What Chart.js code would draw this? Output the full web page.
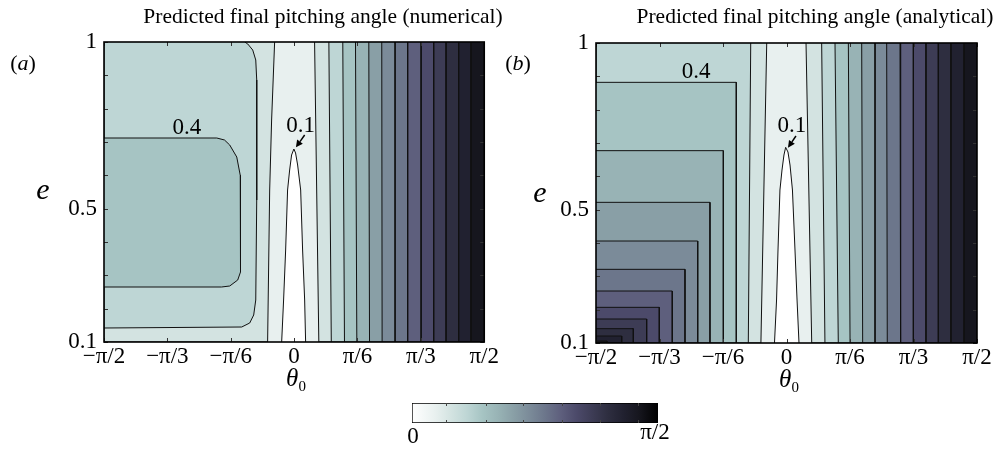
<!DOCTYPE html>
<html>
<head>
<meta charset="utf-8">
<script src="https://cdn.jsdelivr.net/npm/chart.js@4.4.0/dist/chart.umd.min.js"></script>
<style>
  body { margin: 0; background: #fff; width: 998px; height: 449px; position: relative; overflow: hidden; font-family: "Liberation Serif", serif; color: #000; }
  canvas { position: absolute; }
  .lbl { position: absolute; transform: translate(-50%, -50%); white-space: nowrap; line-height: 1; }
  .ttl { font-size: 21.5px; }
  .pan { font-size: 22px; }
  .ax { font-size: 30px; font-style: italic; }
  .th { font-size: 25px; }
  .th sub { font-size: 15px; vertical-align: -5px; line-height: 0; }
</style>
</head>
<body>
<canvas id="chartA" width="500" height="400" style="left:0;top:0"></canvas>
<canvas id="chartB" width="498" height="400" style="left:500px;top:0"></canvas>
<canvas id="colorbar" width="300" height="59" style="left:390px;top:390px"></canvas>

<div class="lbl ttl" style="left:323px;top:17px">Predicted final pitching angle (numerical)</div>
<div class="lbl ttl" style="left:815px;top:17px">Predicted final pitching angle (analytical)</div>
<div class="lbl pan" style="left:23px;top:63px">(<i>a</i>)</div>
<div class="lbl pan" style="left:518px;top:63px">(<i>b</i>)</div>
<div class="lbl ax" style="left:43px;top:189px">e</div>
<div class="lbl ax" style="left:540px;top:192px">e</div>
<div class="lbl th" style="left:296px;top:377px"><i>θ</i><sub>0</sub></div>
<div class="lbl th" style="left:789px;top:378px"><i>θ</i><sub>0</sub></div>

<script>
const PI = Math.PI;

// Niveles de contorno y color de cada banda (0-0.1, 0.1-0.2, ...)
const levels = [0, 0.1, 0.2, 0.3, 0.4, 0.5, 0.6, 0.7, 0.8, 0.9, 1.0, 1.1, 1.2, 1.3, 1.4, 1.5];
const bandColors = ['#ffffff', '#e8f0ef', '#d3e3e1', '#bed6d5', '#a6c4c3', '#98b3b5', '#899fa6', '#7b8b99',
  '#6c768b', '#5e5f7d', '#4c4a6a', '#3d3c55', '#2e2e40', '#212130', '#16161e', '#0c0c10'];

// Ejes
const thetaTicks = [-PI / 2, -PI / 3, -PI / 6, 0, PI / 6, PI / 3, PI / 2];
const thetaLabels = ['−π/2', '−π/3', '−π/6', '0', 'π/6', 'π/3', 'π/2'];
const eTicks = [0.1, 0.2, 0.3, 0.4, 0.5, 0.6, 0.7, 0.8, 0.9, 1.0];
const eLabels = ['0.1', '', '', '', '0.5', '', '', '', '', '1'];

// (a) contornos verticales a la derecha, niveles 0.2 ... 1.4 (theta en e=1 y en e=0.1)
const rightLevels = [0.2, 0.3, 0.4, 0.5, 0.6, 0.7, 0.8, 0.9, 1.0, 1.1, 1.2, 1.3, 1.4];
const rightTopA = [0.169, 0.287, 0.402, 0.507, 0.617, 0.724, 0.834, 0.938, 1.049, 1.153, 1.255, 1.359, 1.461];
const rightBotA = [0.204, 0.307, 0.416, 0.518, 0.623, 0.727, 0.834, 0.938, 1.049, 1.153, 1.255, 1.359, 1.461];

// (a) contorno 0.2 a la izquierda
const a02Theta = [-0.161, -0.186, -0.202, -0.219];
const a02E = [1.0, 0.766, 0.556, 0.1];
// (a) contorno 0.3 (caja exterior)
const a03Theta = [-0.408, -0.383, -0.342, -0.317, -0.309, -0.309, -0.317, -0.334, -0.367, -0.433, -PI / 2];
const a03E = [1.0, 0.994, 0.976, 0.946, 0.886, 0.526, 0.226, 0.181, 0.157, 0.145, 0.142];
// (a) contorno 0.4 (caja interior)
const a04Theta = [-PI / 2, -0.639, -0.575, -0.532, -0.474, -0.445, -0.441, -0.445, -0.466, -0.532, -0.6, -PI / 2];
const a04E = [0.712, 0.712, 0.706, 0.691, 0.655, 0.6, 0.5, 0.31, 0.286, 0.268, 0.265, 0.265];
// (a) contorno 0.1 (pico blanco)
const a01Theta = [-0.103, -0.087, -0.070, -0.054, -0.037, -0.021, -0.002, 0.012, 0.029, 0.054, 0.070, 0.087, 0.095];
const a01E = [0.1, 0.226, 0.376, 0.556, 0.616, 0.661, 0.679, 0.667, 0.631, 0.556, 0.376, 0.226, 0.1];

// (b) contornos verticales a la derecha
const rightTopB = [0.161, 0.290, 0.400, 0.510, 0.620, 0.730, 0.826, 0.936, 1.046, 1.150, 1.252, 1.356, 1.464];
const rightBotB = [0.208, 0.317, 0.427, 0.524, 0.628, 0.730, 0.831, 0.941, 1.046, 1.150, 1.252, 1.356, 1.464];
// (b) contornos 0.2 y 0.3 a la izquierda
const leftLevelsB = [0.2, 0.3];
const leftTopB = [-0.163, -0.295];
const leftBotB = [-0.211, -0.315];
// (b) rectángulos anidados, niveles 0.4 ... 1.4
const rectLevelsB = [0.4, 0.5, 0.6, 0.7, 0.8, 0.9, 1.0, 1.1, 1.2, 1.3, 1.4];
const rectRightB = [-0.414, -0.521, -0.631, -0.732, -0.837, -0.942, -1.049, -1.153, -1.263, -1.359, -1.48];
const rectTopB = [0.882, 0.677, 0.522, 0.406, 0.321, 0.256, 0.207, 0.172, 0.143, 0.121, 0.106];
// (b) contorno 0.1 (pico blanco)
const b01Theta = [-0.099, -0.082, -0.070, -0.054, -0.037, -0.021, -0.007, 0.012, 0.029, 0.049, 0.070, 0.087, 0.103];
const b01E = [0.1, 0.229, 0.379, 0.559, 0.619, 0.664, 0.687, 0.673, 0.634, 0.559, 0.379, 0.229, 0.1];

// Ticks de la barra de color
const cbTicks = [0.22, 0.47, 0.71, 0.96, 1.2, 1.44];

function bandColor(level) {
  return bandColors[Math.round(level * 10)];
}

function region(theta, e, level, stroke = true) {
  return {
    data: theta.map((t, i) => ({ x: t, y: e[i] })),
    showLine: true,
    fill: 'shape',
    backgroundColor: bandColor(level),
    borderColor: '#111',
    borderWidth: stroke ? 1 : 0,
    pointRadius: 0,
    tension: 0
  };
}

// Bandas verticales a la derecha: desde el contorno hasta theta = pi/2
function rightBands(tops, bots) {
  return rightLevels.map((lv, i) =>
    region([tops[i], bots[i], PI / 2, PI / 2], [1, 0.1, 0.1, 1], lv));
}

// Fondo del área (banda 0.1-0.2)
const areaBackground = {
  id: 'areaBackground',
  beforeDatasetsDraw(chart) {
    const { ctx, chartArea: a } = chart;
    ctx.save();
    ctx.fillStyle = bandColors[1];
    ctx.fillRect(a.left, a.top, a.width, a.height);
    ctx.restore();
  }
};

// Marco y ticks hacia adentro en los cuatro lados
const frameTicks = {
  id: 'frameTicks',
  afterDatasetsDraw(chart) {
    const { ctx, chartArea: a, scales: { x, y } } = chart;
    ctx.save();
    ctx.strokeStyle = '#333';
    ctx.lineWidth = 1;
    ctx.beginPath();
    thetaTicks.forEach(t => {
      const px = Math.round(x.getPixelForValue(t)) + 0.5;
      ctx.moveTo(px, a.bottom); ctx.lineTo(px, a.bottom - 4);
      ctx.moveTo(px, a.top); ctx.lineTo(px, a.top + 4);
    });
    eTicks.forEach(v => {
      const py = Math.round(y.getPixelForValue(v)) + 0.5;
      ctx.moveTo(a.left, py); ctx.lineTo(a.left + 4, py);
      ctx.moveTo(a.right, py); ctx.lineTo(a.right - 4, py);
    });
    ctx.stroke();
    ctx.strokeStyle = '#000';
    ctx.lineWidth = 1.6;
    ctx.strokeRect(a.left, a.top, a.width, a.height);
    ctx.restore();
  }
};

// Etiquetas de contorno y flecha
const contourNotes = {
  id: 'contourNotes',
  afterDatasetsDraw(chart, args, opts) {
    const { ctx, scales: { x, y } } = chart;
    ctx.save();
    ctx.fillStyle = '#000';
    ctx.strokeStyle = '#000';
    ctx.font = '23px "Liberation Serif"';
    ctx.textAlign = 'center';
    ctx.textBaseline = 'middle';
    (opts.labels || []).forEach(l => {
      ctx.fillText(l.text, x.getPixelForValue(l.theta), y.getPixelForValue(l.e));
    });
    const ar = opts.arrow;
    if (ar) {
      const x0 = x.getPixelForValue(ar.from[0]), y0 = y.getPixelForValue(ar.from[1]);
      const x1 = x.getPixelForValue(ar.to[0]), y1 = y.getPixelForValue(ar.to[1]);
      const ang = Math.atan2(y1 - y0, x1 - x0);
      const hl = 7, hw = 3.5;
      const bx = x1 - hl * Math.cos(ang), by = y1 - hl * Math.sin(ang);
      ctx.lineWidth = 1.5;
      ctx.beginPath();
      ctx.moveTo(x0, y0);
      ctx.lineTo(bx, by);
      ctx.stroke();
      ctx.beginPath();
      ctx.moveTo(x1, y1);
      ctx.lineTo(bx + hw * Math.sin(ang), by - hw * Math.cos(ang));
      ctx.lineTo(bx - hw * Math.sin(ang), by + hw * Math.cos(ang));
      ctx.closePath();
      ctx.fill();
    }
    ctx.restore();
  }
};

function makePanel(canvasId, datasets, notes, area) {
  const canvas = document.getElementById(canvasId);
  return new Chart(canvas, {
    type: 'scatter',
    data: { datasets: datasets.slice().reverse() },
    options: {
      responsive: false,
      animation: false,
      events: [],
      layout: { padding: { left: 0, right: canvas.width - area.right, top: area.top, bottom: 0 } },
      scales: {
        x: {
          type: 'linear', min: -PI / 2, max: PI / 2,
          afterBuildTicks: s => { s.ticks = thetaTicks.map(v => ({ value: v })); },
          afterFit: s => { s.height = canvas.height - area.bottom; },
          grid: { display: false, drawTicks: false },
          border: { display: false },
          ticks: {
            autoSkip: false, maxRotation: 0, padding: 1, color: '#000',
            font: { family: 'Liberation Serif', size: 23 },
            callback: (v, i) => thetaLabels[i]
          }
        },
        y: {
          type: 'linear', min: 0.1, max: 1.0,
          afterBuildTicks: s => { s.ticks = eTicks.map(v => ({ value: v })); },
          afterFit: s => { s.width = area.left; },
          grid: { display: false, drawTicks: false },
          border: { display: false },
          ticks: {
            autoSkip: false, padding: 7, color: '#000',
            font: { family: 'Liberation Serif', size: 23 },
            callback: (v, i) => eLabels[i]
          }
        }
      },
      plugins: {
        legend: { display: false },
        tooltip: { enabled: false },
        contourNotes: notes
      }
    },
    plugins: [areaBackground, frameTicks, contourNotes]
  });
}

// Panel (a): orden de pintado de abajo hacia arriba
const regionsA = [
  region(a02Theta.concat([-PI / 2, -PI / 2]), a02E.concat([0.1, 1]), 0.2),
  region(a03Theta.concat([-PI / 2]), a03E.concat([1]), 0.3),
  region(a04Theta, a04E, 0.4),
  ...rightBands(rightTopA, rightBotA),
  region(a01Theta, a01E, 0)
];

makePanel('chartA', regionsA, {
  labels: [{ text: '0.4', theta: -0.886, e: 0.742 }, { text: '0.1', theta: 0.054, e: 0.748 }],
  arrow: { from: [0.087, 0.721], to: [0.015, 0.684] }
}, { left: 104, right: 485, top: 42, bottom: 342 });

// Panel (b)
const regionsB = [
  ...leftLevelsB.map((lv, i) =>
    region([leftTopB[i], leftBotB[i], -PI / 2, -PI / 2], [1, 0.1, 0.1, 1], lv)),
  ...rectLevelsB.map((lv, i) =>
    region([-PI / 2, rectRightB[i], rectRightB[i], -PI / 2], [rectTopB[i], rectTopB[i], 0.1, 0.1], lv)),
  ...rightBands(rightTopB, rightBotB),
  region(b01Theta, b01E, 0)
];

makePanel('chartB', regionsB, {
  labels: [{ text: '0.4', theta: -0.746, e: 0.913 }, { text: '0.1', theta: 0.045, e: 0.751 }],
  arrow: { from: [0.078, 0.721], to: [0.012, 0.686] }
}, { left: 96, right: 477, top: 43, bottom: 343 });

// Barra de color
const colorbarTicks = {
  id: 'colorbarTicks',
  afterDatasetsDraw(chart) {
    const { ctx, chartArea: a, scales: { x } } = chart;
    ctx.save();
    ctx.strokeStyle = '#444';
    ctx.lineWidth = 1;
    ctx.beginPath();
    cbTicks.forEach(v => {
      const px = Math.round(x.getPixelForValue(v)) + 0.5;
      ctx.moveTo(px, a.top); ctx.lineTo(px, a.top + 3);
      ctx.moveTo(px, a.bottom); ctx.lineTo(px, a.bottom - 3);
    });
    ctx.stroke();
    ctx.fillStyle = '#000';
    ctx.font = '23px "Liberation Serif"';
    ctx.textAlign = 'center';
    ctx.textBaseline = 'middle';
    ctx.fillText('0', x.getPixelForValue(0) + 1, a.bottom + 14);
    ctx.fillText('π/2', x.getPixelForValue(PI / 2) - 3, a.bottom + 10);
    ctx.restore();
  }
};

new Chart(document.getElementById('colorbar'), {
  type: 'bar',
  data: {
    labels: [''],
    datasets: [{
      data: [[0, PI / 2]],
      backgroundColor: c => {
        const { ctx, chartArea } = c.chart;
        if (!chartArea) return bandColors[5];
        const g = ctx.createLinearGradient(chartArea.left, 0, chartArea.right, 0);
        g.addColorStop(0, '#ffffff');
        for (let i = 1; i < 15; i++) {
          g.addColorStop((levels[i] + 0.05) / (PI / 2), bandColors[i]);
        }
        g.addColorStop(1, '#000000');
        return g;
      },
      borderColor: '#000',
      borderWidth: 1,
      borderSkipped: false,
      barPercentage: 1,
      categoryPercentage: 1
    }]
  },
  options: {
    indexAxis: 'y',
    responsive: false,
    animation: false,
    events: [],
    layout: { padding: { left: 22, right: 32, top: 13, bottom: 26 } },
    scales: {
      x: { type: 'linear', display: false, min: 0, max: PI / 2 },
      y: { display: false }
    },
    plugins: { legend: { display: false }, tooltip: { enabled: false } }
  },
  plugins: [colorbarTicks]
});
</script>
</body>
</html>
